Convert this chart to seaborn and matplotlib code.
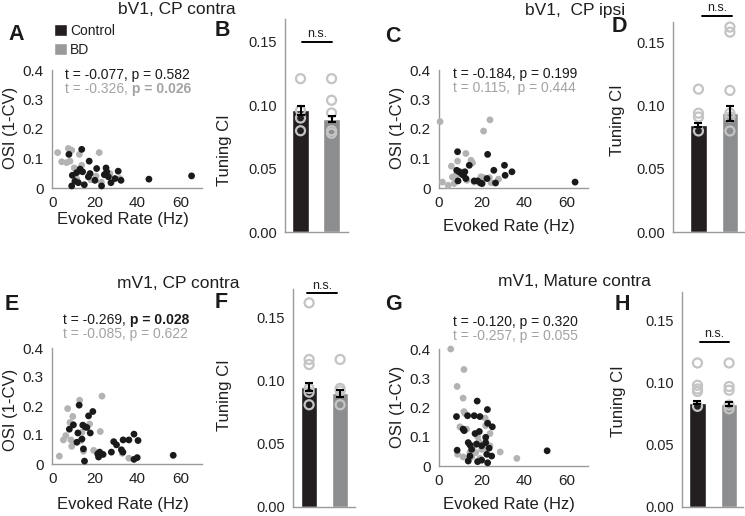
import numpy as np
import pandas as pd
import matplotlib
matplotlib.use("Agg")
import matplotlib.pyplot as plt
import seaborn as sns
from matplotlib.patches import Patch
from matplotlib.ticker import FixedLocator

# ---------------- data ----------------
cats = ["Control", "BD"]

# Panel A (bV1, CP contra) scatter
A_ctrl_x = [7.8, 13.8, 9.1, 9.4, 10.6, 11.4, 12.2, 13.0, 14.2, 15.0, 17.3, 17.7, 16.9, 20.8, 20.0,
            23.1, 24.4, 25.2, 25.5, 26.3, 27.5, 29.4, 30.9, 32.2, 45.3, 65.3]
A_ctrl_y = [0.114, 0.131, 0.007, 0.043, 0.023, 0.052, 0.018, 0.064, 0.055, 0.011, 0.091, 0.049, 0.038,
            0.066, 0.026, 0.007, 0.045, 0.068, 0.055, 0.038, 0.018, 0.032, 0.057, 0.026, 0.030, 0.041]
A_bd_x = [2.5, 4.4, 6.7, 7.5, 9.1, 8.3, 10.3, 12.7, 13.8, 22.0, 20.5, 27.0, 23.0, 31.7, 11.5, 18.0]
A_bd_y = [0.120, 0.089, 0.086, 0.134, 0.128, 0.091, 0.068, 0.114, 0.077, 0.120, 0.040, 0.049, 0.020,
          0.032, 0.030, 0.028]

# Panel C (bV1, CP ipsi) scatter
C_ctrl_x = [8.7, 8.3, 9.4, 8.9, 10.7, 11.5, 12.1, 12.6, 14.2, 16.5, 18.1, 19.4, 20.2, 22.8, 22.5,
            25.7, 26.5, 30.7, 31.0, 34.2, 63.8]
C_ctrl_y = [0.123, 0.060, 0.055, 0.024, 0.047, 0.043, 0.055, 0.032, 0.077, 0.024, 0.024, 0.017, 0.015,
            0.114, 0.032, 0.060, 0.017, 0.077, 0.043, 0.055, 0.020]
C_bd_x = [0.5, 1.6, 4.3, 5.8, 6.3, 7.9, 8.7, 7.1, 12.6, 13.1, 15.0, 15.7, 20.9, 23.9, 19.7, 20.9,
          23.6, 24.4, 27.9, 10.2, 16.5]
C_bd_y = [0.225, 0.020, 0.009, 0.074, 0.037, 0.043, 0.091, 0.015, 0.117, 0.026, 0.094, 0.085, 0.193,
          0.231, 0.038, 0.035, 0.035, 0.018, 0.030, 0.055, 0.020]

# Panel E (mV1, CP contra) scatter
E_ctrl_x = [8.0, 9.9, 11.5, 12.0, 12.6, 14.3, 15.4, 16.2, 14.6, 15.1, 17.0, 17.8, 19.0, 13.9, 21.3,
            21.7, 22.2, 23.8, 27.7, 28.8, 30.1, 32.4, 33.1, 33.2, 35.9, 38.3, 40.2, 38.3, 39.8, 56.7]
E_ctrl_y = [0.120, 0.135, 0.075, 0.107, 0.203, 0.134, 0.128, 0.126, 0.052, 0.010, 0.166, 0.107, 0.181,
            0.086, 0.035, 0.024, 0.041, 0.033, 0.041, 0.077, 0.066, 0.049, 0.041, 0.083, 0.083, 0.103,
            0.081, 0.016, 0.022, 0.030]
E_bd_x = [3.3, 5.2, 6.3, 7.2, 8.3, 8.7, 9.1, 9.6, 12.8, 13.4, 13.9, 14.6, 17.5, 19.4, 22.5, 23.3,
          32.8, 35.9]
E_bd_y = [0.027, 0.083, 0.098, 0.191, 0.143, 0.083, 0.061, 0.164, 0.220, 0.081, 0.109, 0.044, 0.138,
          0.047, 0.112, 0.234, 0.037, 0.020]

# Panel G (mV1, Mature contra) scatter
G_ctrl_x = [8.2, 8.5, 11.3, 11.8, 13.4, 13.7, 14.5, 15.3, 14.5, 13.7, 16.5, 17.6, 16.9, 17.9, 19.2,
            18.9, 18.1, 20.0, 21.9, 21.9, 22.4, 22.7, 22.8, 23.5, 25.0, 24.7, 22.8, 20.0, 50.7]
G_ctrl_y = [0.169, 0.054, 0.126, 0.121, 0.172, 0.080, 0.072, 0.057, 0.034, 0.017, 0.172, 0.075, 0.111,
            0.222, 0.169, 0.118, 0.015, 0.020, 0.098, 0.080, 0.040, 0.193, 0.146, 0.061, 0.134, 0.034,
            0.011, 0.069, 0.052]
G_bd_x = [5.5, 11.7, 8.5, 11.3, 11.7, 12.1, 9.8, 8.7, 11.3, 12.9, 18.1, 18.7, 21.6, 21.9, 22.8, 23.9,
          23.9, 28.7, 36.5, 14.5, 15.3, 20.0, 22.4, 13.7, 17.2, 19.2, 16.9]
G_bd_y = [0.400, 0.330, 0.272, 0.232, 0.186, 0.180, 0.134, 0.040, 0.031, 0.126, 0.100, 0.084, 0.164,
          0.138, 0.149, 0.111, 0.069, 0.048, 0.026, 0.046, 0.031, 0.057, 0.061, 0.023, 0.046, 0.026,
          0.071]

# Bar panels: means, SEM, individual values
B_means = [0.096, 0.089]
B_sems = [0.0035, 0.0025]
B_ctrl_pts = [0.121, 0.096, 0.090, 0.080]
B_bd_pts = [0.121, 0.104, 0.094, 0.080, 0.078]

D_means = [0.085, 0.094]
D_sems = [0.0015, 0.006]
D_ctrl_pts = [0.113, 0.094, 0.091, 0.080]
D_bd_pts = [0.162, 0.158, 0.112, 0.094, 0.091, 0.080]

F_means = [0.095, 0.090]
F_sems = [0.003, 0.0025]
F_ctrl_pts = [0.162, 0.117, 0.113, 0.094, 0.091, 0.081]
F_bd_pts = [0.117, 0.094, 0.092, 0.081]

H_means = [0.084, 0.083]
H_sems = [0.0015, 0.0015]
H_ctrl_pts = [0.116, 0.098, 0.095, 0.093, 0.081]
H_bd_pts = [0.116, 0.097, 0.094, 0.082, 0.079]

# tick labels
sc_xticks = [0, 20, 40, 60]
sc_yticks = [0, 0.1, 0.2, 0.3, 0.4]
sc_yticklabels = ["0", "0.1", "0.2", "0.3", "0.4"]
bar_yticks = [0, 0.05, 0.10, 0.15]
bar_yticklabels = ["0.00", "0.05", "0.10", "0.15"]

# text
titles = ["bV1, CP contra", "bV1,  CP ipsi", "mV1, CP contra", "mV1, Mature contra"]
letters = ["A", "B", "C", "D", "E", "F", "G", "H"]
A_stats = [[("t = -0.077, p = 0.582", False)], [("t = -0.326,", False), (" p = 0.026", True)]]
C_stats = [[("t = -0.184, p = 0.199", False)], [("t = 0.115,  p = 0.444", False)]]
E_stats = [[("t = -0.269,", False), (" p = 0.028", True)], [("t = -0.085, p = 0.622", False)]]
G_stats = [[("t = -0.120, p = 0.320", False)], [("t = -0.257, p = 0.055", False)]]

# ---------------- style ----------------
BLACK = "#1a1a1a"
GRAY_PT = "#b3b3b3"
BAR_BLACK = "#231f20"
BAR_GRAY = "#8c8d8f"
LEG_GRAY = "#9a9a9a"
CIRC = "#c4c4c4"
TXT_GRAY = "#a3a3a3"
SPINE = "#9a9a9a"

sns.set_theme(style="white")
plt.rcParams["font.family"] = ["Liberation Sans", "DejaVu Sans"]
plt.rcParams["text.color"] = "#1f1f1f"
plt.rcParams["axes.labelcolor"] = "#1f1f1f"

W, H = 745, 516
fig = plt.figure(figsize=(W / 100, H / 100), dpi=100)
fig.patch.set_facecolor("white")


def rect(x0, x1, yt, yb):
    return [x0 / W, 1 - yb / H, (x1 - x0) / W, (yb - yt) / H]


def style(ax, labelsize):
    for s in ["top", "right"]:
        ax.spines[s].set_visible(False)
    for s in ["left", "bottom"]:
        ax.spines[s].set_color(SPINE)
        ax.spines[s].set_linewidth(1.0)
    ax.tick_params(which="both", direction="out", color=SPINE, labelcolor="#222222",
                   labelsize=labelsize, width=1.0)
    ax.tick_params(which="major", length=4, pad=2)
    ax.tick_params(which="minor", length=2.5)
    ax.set_facecolor("none")


def scatter_panel(r, cx, cy, bx, by, ylc, xlc):
    ax = fig.add_axes(r)
    df = pd.DataFrame({
        "rate": list(bx) + list(cx),
        "osi": list(by) + list(cy),
        "group": ["BD"] * len(bx) + ["Control"] * len(cx),
    })
    sns.scatterplot(data=df, x="rate", y="osi", hue="group",
                    palette={"Control": BLACK, "BD": GRAY_PT}, s=24, linewidth=0,
                    legend=False, ax=ax, clip_on=False, zorder=3)
    ax.set_xlim(0, 70)
    ax.set_ylim(0, 0.4)
    ax.set_xticks(sc_xticks)
    ax.xaxis.set_minor_locator(FixedLocator([10, 30, 50, 70]))
    ax.set_yticks(sc_yticks)
    ax.set_yticklabels(sc_yticklabels)
    ax.yaxis.set_minor_locator(FixedLocator([0.05, 0.15, 0.25, 0.35]))
    style(ax, 11)
    ax.set_ylabel("OSI (1-CV)", fontsize=12)
    ax.set_xlabel("Evoked Rate (Hz)", fontsize=12)
    ax.yaxis.set_label_coords(*ylc)
    ax.yaxis.label.set_va("center")
    ax.xaxis.set_label_coords(*xlc)
    ax.xaxis.label.set_va("center")
    return ax


def bar_panel(r, means, sems, cpts, bpts, ylim, xlim, ns_y, ns_x, ylc):
    ax = fig.add_axes(r)
    dfb = pd.DataFrame({"group": cats, "ci": means})
    sns.barplot(data=dfb, x="group", y="ci", hue="group", order=cats, hue_order=cats,
                palette={"Control": BAR_BLACK, "BD": BAR_GRAY}, width=0.52, legend=False,
                errorbar=None, saturation=1, ax=ax, zorder=2)
    dfp = pd.DataFrame({"group": ["Control"] * len(cpts) + ["BD"] * len(bpts),
                        "ci": list(cpts) + list(bpts)})
    n0 = len(ax.collections)
    sns.stripplot(data=dfp, x="group", y="ci", order=cats, jitter=False, color=CIRC,
                  size=6.5, ax=ax, zorder=3, clip_on=False)
    for c in ax.collections[n0:]:
        c.set_facecolor("none")
        c.set_edgecolor(CIRC)
        c.set_linewidth(1.6)
    ax.errorbar(x=np.arange(len(cats)), y=means, yerr=sems, fmt="none", ecolor="black",
                elinewidth=1.5, capsize=3, capthick=1.5, zorder=4)
    ax.set_xlim(*xlim)
    ax.set_ylim(*ylim)
    ax.set_xticks([])
    ax.set_xlabel("")
    ax.set_yticks(bar_yticks)
    ax.set_yticklabels(bar_yticklabels)
    style(ax, 10.5)
    ax.set_ylabel("Tuning CI", fontsize=12)
    ax.yaxis.set_label_coords(*ylc)
    ax.yaxis.label.set_va("center")
    ax.plot(ns_x, [ns_y, ns_y], color="black", lw=1.4, clip_on=False)
    ax.annotate("n.s.", xy=(np.mean(ns_x), ns_y), xytext=(0, 1), textcoords="offset points",
                ha="center", va="bottom", fontsize=9, annotation_clip=False)
    return ax


def stat_lines(x_px, ys_px, lines):
    cols = ["#1a1a1a", TXT_GRAY]
    for line, y_px, col in zip(lines, ys_px, cols):
        prev = fig.text(x_px / W, 1 - y_px / H, line[0][0], color=col, fontsize=10,
                        ha="left", va="center", fontweight="bold" if line[0][1] else "normal")
        for txt, bold in line[1:]:
            prev = fig.axes[0].annotate(txt, xy=(1, 0.5), xycoords=prev, ha="left", va="center",
                                        color=col, fontsize=10,
                                        fontweight="bold" if bold else "normal",
                                        annotation_clip=False)


# scatter panels
axA = scatter_panel(rect(52.3, 201.6, 70, 188), A_ctrl_x, A_ctrl_y, A_bd_x, A_bd_y,
                    (-0.283, 0.508), (0.474, -0.271))
axC = scatter_panel(rect(439, 588.3, 70, 188), C_ctrl_x, C_ctrl_y, C_bd_x, C_bd_y,
                    (-0.281, 0.508), (0.469, -0.33))
axE = scatter_panel(rect(52.3, 201.6, 348, 464), E_ctrl_x, E_ctrl_y, E_bd_x, E_bd_y,
                    (-0.28, 0.466), (0.474, -0.353))
axG = scatter_panel(rect(439, 588.3, 349, 466), G_ctrl_x, G_ctrl_y, G_bd_x, G_bd_y,
                    (-0.281, 0.504), (0.469, -0.333))

# bar panels
bar_panel(rect(285, 348, 19, 232.3), B_means, B_sems, B_ctrl_pts, B_bd_pts,
          (0, 0.168), (-0.5, 1.53), 0.150, [0.05, 1.0], (-0.968, 0.386))
bar_panel(rect(673, 745, 22, 232.3), D_means, D_sems, D_ctrl_pts, D_bd_pts,
          (0, 0.166), (-0.81, 1.48), 0.171, [0.11, 1.06], (-0.764, 0.534))
bar_panel(rect(293, 355, 289, 506.7), F_means, F_sems, F_ctrl_pts, F_bd_pts,
          (0, 0.173), (-0.52, 1.48), 0.1696, [-0.06, 0.9], (-1.097, 0.513))
bar_panel(rect(682, 743, 291.7, 506.7), H_means, H_sems, H_ctrl_pts, H_bd_pts,
          (0, 0.1735), (-0.49, 1.44), 0.133, [0.08, 1.0], (-1.049, 0.49))

# stats text
stat_lines(65, [75, 89], A_stats)
stat_lines(453, [74, 88], C_stats)
stat_lines(63, [320, 334], E_stats)
stat_lines(453, [322, 336], G_stats)

# titles
for (cx, cy), t in zip([(177, 10), (575, 10), (178, 283), (574, 282)], titles):
    fig.text(cx / W, 1 - cy / H, t, fontsize=12.5, ha="center", va="center", color="#1f1f1f")

# panel letters
for (lx, ly), L in zip([(8, 34), (215, 30), (385, 36), (612, 27), (5, 304), (215, 302),
                        (385, 304), (615, 304)], letters):
    fig.text(lx / W, 1 - ly / H, L, fontsize=15.5, fontweight="bold", ha="left", va="center",
             color="#1a1a1a")

# legend
fig.legend(handles=[Patch(facecolor=BAR_BLACK), Patch(facecolor=LEG_GRAY)], labels=cats,
           loc="upper left", bbox_to_anchor=(54 / W, 1 - 24 / H), frameon=False, fontsize=10,
           handlelength=0.9, handleheight=0.9, handletextpad=0.25, labelspacing=0.35,
           borderpad=0, borderaxespad=0)

fig.savefig("out.png", dpi=100, facecolor="white")
